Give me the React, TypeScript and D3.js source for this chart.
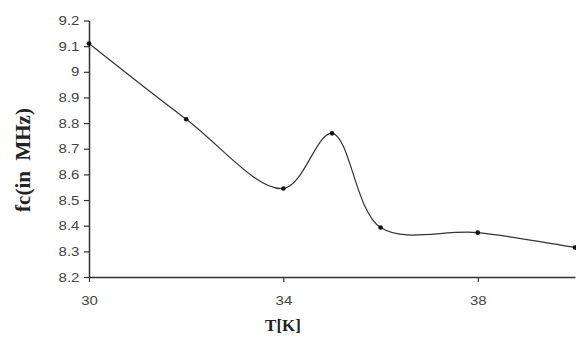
import { useEffect, useRef } from 'react';
import * as d3 from 'd3';

const temps = [30, 32, 34, 35, 36, 38, 40];
const fc = [9.11, 8.815, 8.545, 8.76, 8.393, 8.373, 8.315];
const xTicks = [30, 34, 38];
const yTicks = [8.2, 8.3, 8.4, 8.5, 8.6, 8.7, 8.8, 8.9, 9, 9.1, 9.2];

export default function App() {
  const ref = useRef<HTMLDivElement>(null);
  useEffect(() => {
    const width = 576;
    const height = 339;
    const marginTop = 20.5;
    const marginRight = 1;
    const marginBottom = 62;
    const marginLeft = 89;
    const tickFont = 'Liberation Sans, Arial, sans-serif';

    const x = d3.scaleLinear()
      .domain([30, 40])
      .range([marginLeft, width - marginRight]);

    const y = d3.scaleLinear()
      .domain([8.2, 9.2])
      .range([height - marginBottom, marginTop]);

    const svg = d3.create('svg')
      .attr('width', width)
      .attr('height', height)
      .attr('viewBox', [0, 0, width, height])
      .attr('style', 'position:absolute;left:0;top:0;background:#fff');

    // y axis
    svg.append('g')
      .attr('transform', `translate(${marginLeft},0)`)
      .call(d3.axisLeft(y).tickValues(yTicks).tickSize(5).tickSizeOuter(0)
        .tickFormat((d) => String(+(+d).toFixed(1))))
      .call((g) => g.select('.domain').attr('stroke', '#333').attr('stroke-width', 1.5))
      .call((g) => g.selectAll('.tick line').attr('stroke', '#333').attr('stroke-width', 1.2))
      .call((g) => g.selectAll('.tick text')
        .attr('x', -8)
        .attr('transform', 'scale(1.2,1)')
        .attr('fill', '#444')
        .attr('font-family', tickFont)
        .attr('font-size', 12.5));

    // x axis
    svg.append('g')
      .attr('transform', `translate(0,${height - marginBottom})`)
      .call(d3.axisBottom(x).tickValues(xTicks).tickSize(5).tickSizeOuter(0))
      .call((g) => g.select('.domain').attr('stroke', '#333').attr('stroke-width', 1.5))
      .call((g) => g.selectAll('.tick line').attr('stroke', '#333').attr('stroke-width', 1.2))
      .call((g) => g.selectAll('.tick text')
        .attr('y', 19)
        .attr('transform', 'scale(1.2,1)')
        .attr('fill', '#444')
        .attr('font-family', tickFont)
        .attr('font-size', 12.5));

    const data = temps.map((t, i) => [t, fc[i]] as [number, number]);

    const line = d3.line<[number, number]>()
      .x((d) => x(d[0]))
      .y((d) => y(d[1]))
      .curve(d3.curveCatmullRom.alpha(0.5));

    svg.append('path')
      .datum(data)
      .attr('fill', 'none')
      .attr('stroke', '#333')
      .attr('stroke-width', 1.2)
      .attr('d', line);

    svg.append('g')
      .attr('fill', '#111')
      .selectAll()
      .data(data)
      .join('circle')
      .attr('cx', (d) => x(d[0]))
      .attr('cy', (d) => y(d[1]))
      .attr('r', 2.3);

    svg.append('text')
      .attr('x', 283)
      .attr('y', 331)
      .attr('text-anchor', 'middle')
      .attr('font-family', 'Liberation Serif, Times New Roman, serif')
      .attr('font-weight', 'bold')
      .attr('font-size', 17)
      .attr('fill', '#222')
      .text('T[K]');

    svg.append('text')
      .attr('transform', 'translate(30,160) rotate(-90)')
      .attr('text-anchor', 'middle')
      .attr('font-family', 'Liberation Serif, Times New Roman, serif')
      .attr('font-weight', 'bold')
      .attr('font-size', 21)
      .attr('fill', '#222')
      .style('white-space', 'pre')
      .text('fc(in  MHz)');

    const node = svg.node()!;
    ref.current?.append(node);
    return () => {
      node.remove();
    };
  });
  return <div ref={ref}></div>;
}
